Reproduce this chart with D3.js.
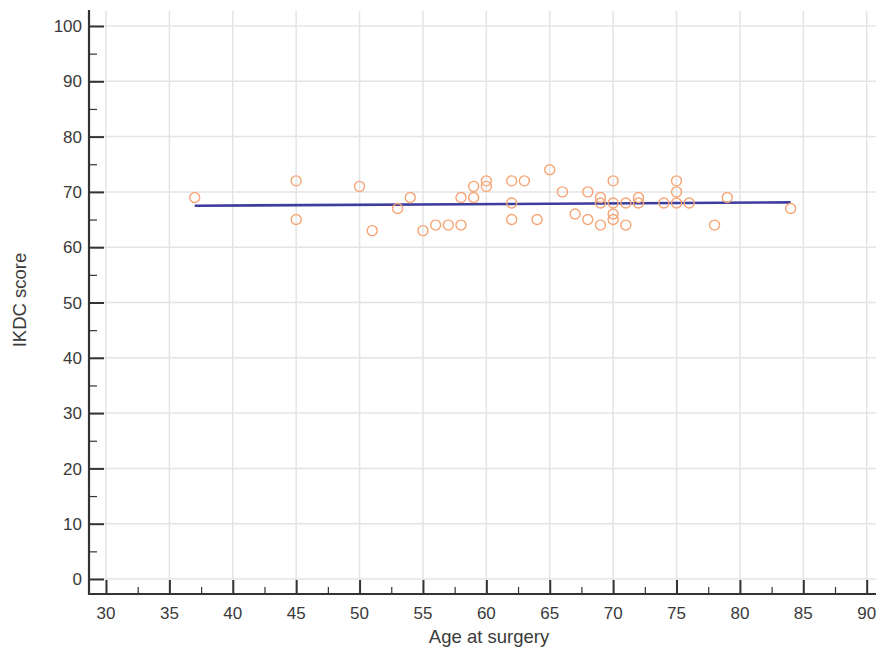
<!DOCTYPE html>
<html>
<head>
<meta charset="utf-8">
<script src="https://cdn.jsdelivr.net/npm/d3@7"></script>
<style>
  html, body { margin: 0; padding: 0; background: #fff; }
  svg { display: block; font-family: "Liberation Sans", Arial, sans-serif; }
</style>
</head>
<body>
<svg id="chart" width="876" height="654"></svg>
<script>
// ---- data ----
const ages   = [37, 45, 45, 50, 51, 53, 54, 55, 56, 57, 58, 58, 59, 59, 60, 60, 62, 62, 62, 63, 64, 65, 66, 67, 68, 68, 69, 69, 69, 70, 70, 70, 70, 71, 71, 72, 72, 74, 75, 75, 75, 76, 78, 79, 84];
const scores = [69, 72, 65, 71, 63, 67, 69, 63, 64, 64, 64, 69, 71, 69, 72, 71, 72, 68, 65, 72, 65, 74, 70, 66, 70, 65, 69, 68, 64, 72, 68, 66, 65, 68, 64, 69, 68, 68, 72, 70, 68, 68, 64, 69, 67];
const fitX = [37, 84];
const fitY = [67.5, 68.1];
const xTicks = [30, 35, 40, 45, 50, 55, 60, 65, 70, 75, 80, 85, 90];
const yTicks = [0, 10, 20, 30, 40, 50, 60, 70, 80, 90, 100];
const xTitle = "Age at surgery";
const yTitle = "IKDC score";

// ---- layout ----
const svg = d3.select("#chart");
const axisX = 89, axisY = 594, rightX = 876, topY = 10;
const x = d3.scaleLinear().domain([30, 90]).range([106, 866.7]);
const y = d3.scaleLinear().domain([0, 100]).range([579, 26]);
const textColor = "#3a3a3a";

// gridlines
const grid = svg.append("g");
grid.selectAll("line.v").data(xTicks).join("line").attr("class", "v")
  .attr("x1", d => x(d)).attr("x2", d => x(d))
  .attr("y1", topY + 1).attr("y2", axisY)
  .attr("stroke", "#e4e4e4").attr("stroke-width", 1.5);
grid.selectAll("line.h").data(yTicks).join("line").attr("class", "h")
  .attr("x1", axisX).attr("x2", rightX)
  .attr("y1", d => y(d)).attr("y2", d => y(d))
  .attr("stroke", "#e4e4e4").attr("stroke-width", 1.5);

// x axis (ticks pointing up)
const xMinor = d3.range(32.5, 90, 5);
const gx = svg.append("g").attr("transform", `translate(0,${axisY})`);
gx.call(d3.axisBottom(x).tickValues(xTicks).tickSize(-14).tickFormat(() => ""))
  .call(g => g.select(".domain").remove());
gx.selectAll(".tick line").attr("stroke", "#333").attr("stroke-width", 2);
const gxm = svg.append("g").attr("transform", `translate(0,${axisY})`);
gxm.call(d3.axisBottom(x).tickValues(xMinor).tickSize(-7).tickFormat(() => ""))
  .call(g => g.select(".domain").remove());
gxm.selectAll(".tick line").attr("stroke", "#333").attr("stroke-width", 1.2);
svg.append("line").attr("x1", axisX - 1).attr("x2", rightX).attr("y1", axisY).attr("y2", axisY)
  .attr("stroke", "#333").attr("stroke-width", 2.2);
svg.append("g").selectAll("text").data(xTicks).join("text")
  .attr("x", d => x(d)).attr("y", 619)
  .attr("text-anchor", "middle").attr("font-size", 17).attr("fill", textColor)
  .text(d => d);

// y axis (ticks pointing right)
const yMinor = d3.range(5, 100, 10);
const gy = svg.append("g").attr("transform", `translate(${axisX},0)`);
gy.call(d3.axisLeft(y).tickValues(yTicks).tickSize(-15).tickFormat(() => ""))
  .call(g => g.select(".domain").remove());
gy.selectAll(".tick line").attr("stroke", "#333").attr("stroke-width", 2);
const gym = svg.append("g").attr("transform", `translate(${axisX},0)`);
gym.call(d3.axisLeft(y).tickValues(yMinor).tickSize(-8).tickFormat(() => ""))
  .call(g => g.select(".domain").remove());
gym.selectAll(".tick line").attr("stroke", "#333").attr("stroke-width", 1.2);
svg.append("line").attr("x1", axisX).attr("x2", axisX).attr("y1", topY).attr("y2", axisY + 1)
  .attr("stroke", "#333").attr("stroke-width", 2.2);
svg.append("g").selectAll("text").data(yTicks).join("text")
  .attr("x", 82).attr("y", d => y(d)).attr("dy", "0.36em")
  .attr("text-anchor", "end").attr("font-size", 17).attr("fill", textColor)
  .text(d => d);

// titles
svg.append("text").attr("x", 489).attr("y", 643)
  .attr("text-anchor", "middle").attr("font-size", 18.5).attr("fill", textColor)
  .text(xTitle);
svg.append("text").attr("transform", `translate(26,300) rotate(-90)`)
  .attr("text-anchor", "middle").attr("font-size", 18.5).attr("fill", textColor)
  .text(yTitle);

// regression line
svg.append("line")
  .attr("x1", x(fitX[0])).attr("y1", y(fitY[0]))
  .attr("x2", x(fitX[1])).attr("y2", y(fitY[1]))
  .attr("stroke", "#3d3d9e").attr("stroke-width", 2.6);

// points
svg.append("g").selectAll("circle").data(ages.map((a, i) => [a, scores[i]])).join("circle")
  .attr("cx", d => x(d[0])).attr("cy", d => y(d[1])).attr("r", 5)
  .attr("fill", "none").attr("stroke", "#f6a576").attr("stroke-width", 1.4);
</script>
</body>
</html>
